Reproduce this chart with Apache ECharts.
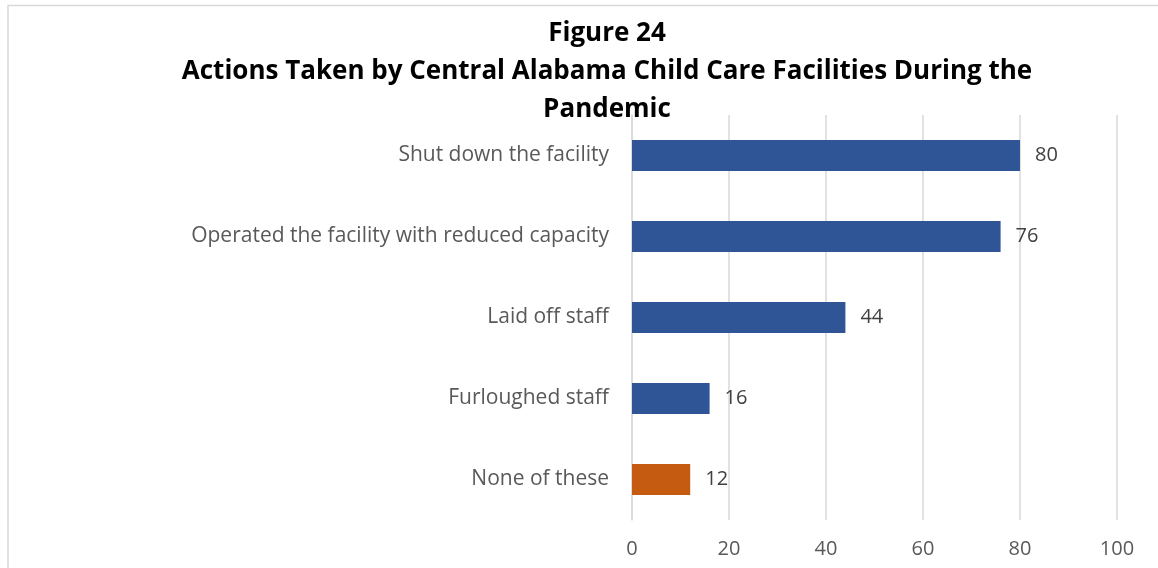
<!DOCTYPE html>
<html>
<head>
<meta charset="utf-8">
<script src="https://cdn.jsdelivr.net/npm/echarts@6/dist/echarts.min.js"></script>
<style>
  html, body { margin: 0; padding: 0; background: #ffffff; }
  #chart { width: 1158px; height: 568px; }
</style>
</head>
<body>
<div id="chart"></div>
<script>
// Survey responses: actions taken during the pandemic
const categories = [
  'Shut down the facility',
  'Operated the facility with reduced capacity',
  'Laid off staff',
  'Furloughed staff',
  'None of these'
];
const values = [80, 76, 44, 16, 12];
const barColors = ['#2F5597', '#2F5597', '#2F5597', '#2F5597', '#C55A11'];
const xTicks = { min: 0, max: 100, interval: 20 };

const FONT = '"Open Sans", "Noto Sans", sans-serif';

const chart = echarts.init(document.getElementById('chart'), null, { renderer: 'canvas' });

chart.setOption({
  backgroundColor: '#ffffff',
  animation: false,
  title: {
    text: 'Figure 24\nActions Taken by Central Alabama Child Care Facilities During the\nPandemic',
    left: 602,
    top: 10,
    textAlign: 'center',
    textStyle: {
      fontFamily: FONT,
      fontSize: 26,
      fontWeight: 'bold',
      color: '#000000',
      lineHeight: 38
    }
  },
  graphic: [{
    type: 'rect',
    silent: true,
    shape: { x: 8, y: 5.5, width: 1200, height: 600 },
    style: { fill: 'none', stroke: '#d9d9d9', lineWidth: 1.5 }
  }],
  grid: { left: 632, right: 41, top: 115, bottom: 48, containLabel: false },
  xAxis: {
    type: 'value',
    min: xTicks.min,
    max: xTicks.max,
    interval: xTicks.interval,
    axisLine: { show: false },
    axisTick: { show: false },
    splitLine: { show: true, lineStyle: { color: '#d9d9d9', width: 1.5 } },
    axisLabel: { color: '#595959', fontFamily: FONT, fontSize: 20, margin: 19 }
  },
  yAxis: {
    type: 'category',
    data: categories,
    inverse: true,
    axisLine: { show: true, lineStyle: { color: '#d9d9d9', width: 1.5 } },
    axisTick: { show: false },
    axisLabel: { color: '#595959', fontFamily: FONT, fontSize: 21, margin: 23 }
  },
  series: [{
    type: 'bar',
    data: values.map((v, i) => ({ value: v, itemStyle: { color: barColors[i] } })),
    barWidth: 31,
    label: {
      show: true,
      position: 'right',
      distance: 15,
      color: '#404040',
      fontFamily: FONT,
      fontSize: 20
    }
  }]
});
</script>
</body>
</html>
